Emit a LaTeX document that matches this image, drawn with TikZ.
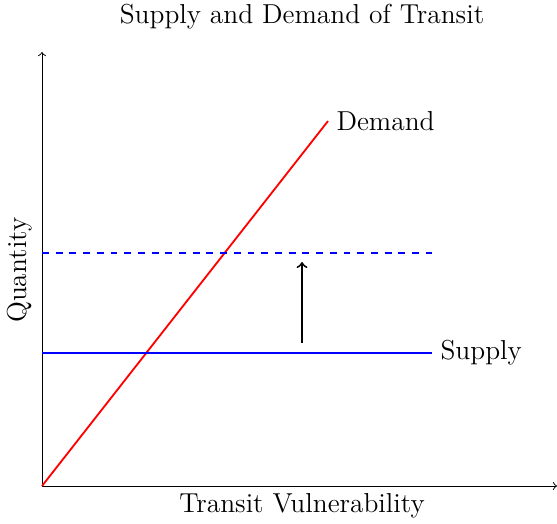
\documentclass[tikz,border=0pt]{standalone}
\begin{document}
\begin{tikzpicture}[font=\large]
    \useasboundingbox (-0.646,-0.569) rectangle (7.923,7.477);
    \coordinate (O) at (0,0);
    \coordinate (xend) at (7.923,0);
    \coordinate (yend) at (0,6.677);
    \coordinate (dtop) at (4.4,5.615);
    \coordinate (s0) at (0,2.046);
    \coordinate (s1) at (6,2.046);
    \coordinate (n0) at (0,3.585);
    \coordinate (n1) at (6,3.585);
    \coordinate (a0) at (4,2.2);
    \coordinate (a1) at (4,3.446);
    \draw[->] (O) -- (xend);
    \draw[->] (O) -- (yend);
    \draw[thick,red] (O) -- (dtop) node[right,black] (demand) {Demand};
    \draw[thick,blue] (s0) -- (s1) node[right,black] (supply) {Supply};
    \draw[thick,blue,dashed] (n0) -- (n1);
    \draw[thick,->] (a0) -- (a1);
    \node (title) at (4,7.215) {Supply and Demand of Transit};
    \node (xlabel) at (4,-0.31) {Transit Vulnerability};
    \node[rotate=90] (ylabel) at (-0.34,3.32) {Quantity};
  \end{tikzpicture}
\end{document}
